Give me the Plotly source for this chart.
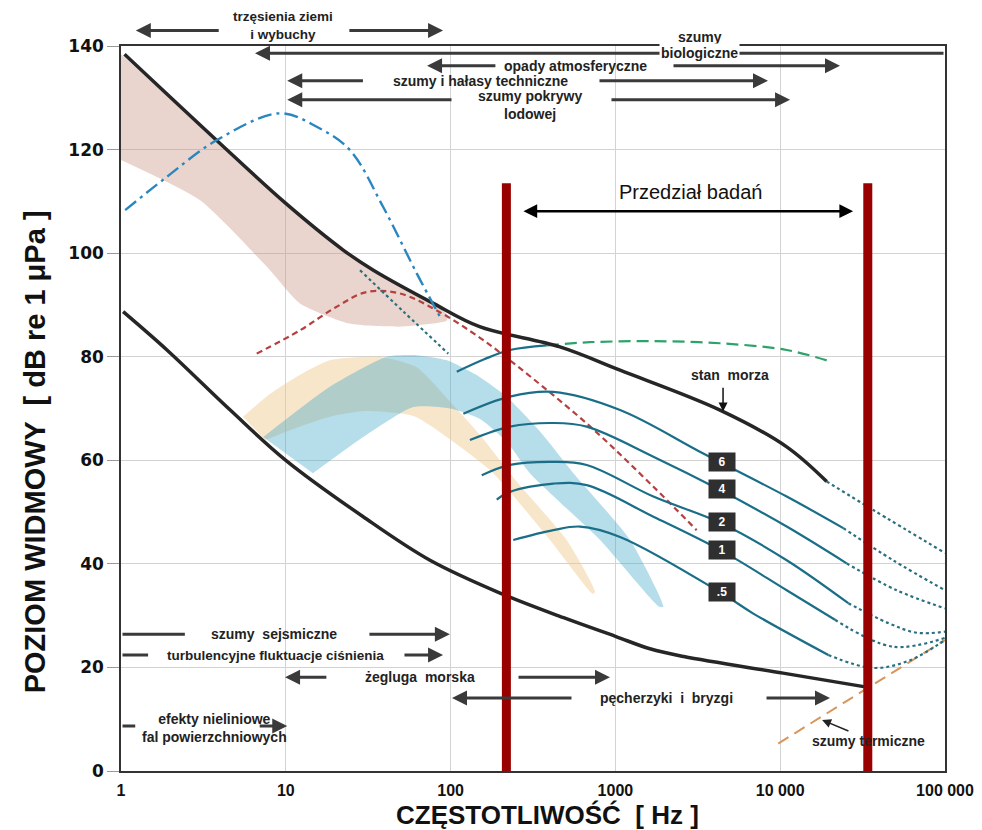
import numpy as np
import plotly.graph_objects as go

# ---------------- ambient-noise spectra (frequency in Hz, level in dB re 1 uPa) ----------------
upper_f = [1.05, 3.8, 10, 22.3, 34, 78.6, 150, 461, 1067, 4313, 10950, 19150]
upper_db = [138.4, 121.8, 109.6, 100.6, 96.7, 90.3, 85.8, 81.9, 77.4, 69.7, 62.6, 55.9]
upper_ext_f = [19150, 36700, 100000]
upper_ext_db = [55.9, 50.4, 42.1]
upper_branch_f = [28.2, 52.2, 96.8]
upper_branch_db = [96.7, 88.6, 80.6]

lower_f = [1.03, 1.9, 4.6, 10, 29.5, 75, 205, 485, 1000, 1620, 2600, 10400, 33500]
lower_db = [88.7, 81.3, 69.7, 60.0, 49.1, 40.7, 34.2, 29.6, 26.0, 23.6, 22.1, 18.9, 16.2]

# earthquakes / explosions band
quake_top_f = [1, 3.8, 10, 22.3, 34, 60, 80, 95]
quake_top_db = [138.4, 121.8, 109.6, 100.6, 96.7, 92.0, 90.0, 88.2]
quake_bot_f = [95, 78, 49, 24.5, 12.2, 7.66, 3.02, 1]
quake_bot_db = [87.0, 86.4, 85.8, 86.4, 90.3, 97.4, 110.2, 118.0]

# blue dash-dot curve
seism_f = [1.06, 1.89, 3.8, 9.2, 15.4, 24.5, 39, 62.3, 88.3]
seism_db = [108.3, 114.7, 121.8, 127.0, 124.4, 119.9, 108.9, 96.1, 87.1]

# shipping (red dashed)
ship_f = [6.66, 12.2, 20, 31, 49.3, 86, 150, 209, 670, 1700, 3110]
ship_db = [80.6, 85.1, 89.5, 92.5, 92.2, 88.6, 83.7, 80.3, 67.1, 54.9, 46.5]

# heavy precipitation (green dashed)
rain_f = [383, 700, 1700, 4313, 10950, 19150]
rain_db = [82.2, 82.8, 83.0, 82.6, 81.3, 79.3]

# light bands: orange and blue
orange_top_f = [5.5, 8, 11.6, 18.5, 37, 62, 95, 150, 250, 506, 752]
orange_top_db = [68.4, 72.8, 76.1, 79.3, 80.0, 78.0, 72.0, 65.0, 56.0, 44.6, 34.6]
orange_bot_f = [730, 401, 181.6, 110, 60, 30, 18.5, 11, 7.5]
orange_bot_db = [34.2, 44.6, 57.5, 63.0, 68.5, 69.5, 68.4, 66.0, 63.9]

blue_top_f = [7.3, 18.5, 41, 62, 95, 150, 218, 350, 556, 1227, 1953]
blue_top_db = [64.5, 74.2, 80.0, 80.3, 79.3, 76.1, 72.3, 65.5, 57.5, 44.6, 31.7]
blue_bot_f = [1850, 807, 303, 220, 150, 100, 59.4, 29.5, 14.6]
blue_bot_db = [31.7, 44.6, 57.5, 63.5, 68.0, 70.0, 70.3, 64.5, 57.5]

# sea-state curves
ss_top_f = [109, 160, 229, 383]
ss_top_db = [77.1, 79.5, 81.3, 82.2]
ss6_f = [119.5, 229, 420, 1067, 3414, 10950, 24150]
ss6_db = [69.0, 72.3, 73.2, 69.7, 61.3, 53.0, 46.9]
ss4_f = [131, 229, 420, 670, 1700, 4420, 10950, 25300]
ss4_db = [63.9, 66.5, 67.2, 66.5, 60.7, 54.1, 47.2, 40.1]
ss2_f = [154.5, 229, 420, 670, 1700, 4420, 10950, 25900]
ss2_db = [57.1, 59.1, 59.7, 59.1, 53.0, 47.8, 40.7, 32.4]
ss1_f = [190.5, 229, 420, 670, 1700, 4420, 10950, 21500]
ss1_db = [52.4, 53.9, 55.5, 55.2, 49.1, 42.5, 34.9, 29.2]
ss05_f = [240, 420, 610, 1067, 4435, 6870, 19600]
ss05_db = [44.6, 46.5, 47.2, 45.2, 34.3, 30.4, 22.4]

ss6_ext_f = [24150, 48400, 100000]
ss6_ext_db = [46.9, 40.7, 34.9]
ss4_ext_f = [25300, 50900, 100000]
ss4_ext_db = [40.1, 34.9, 31.4]
ss2_ext_f = [25900, 45000, 67300, 100000]
ss2_ext_db = [32.4, 28.6, 26.7, 26.9]
ss1_ext_f = [21500, 48300, 100000]
ss1_ext_db = [29.2, 24.0, 25.7]
ss05_ext_f = [19600, 36700, 61400, 100000]
ss05_ext_db = [22.4, 19.9, 21.4, 25.3]

label_freq = 4435

# thermal noise
thermal_f = [9730, 100000]
thermal_db = [5.3, 25.3]

# studied frequency range
study_lo, study_hi = 218, 34000
study_top = 113.5
study_arrow = (271, 27700)

# frequency ranges of the noise sources: (tail, head) pairs in Hz, level in dB
top_ranges = [
    ([(4.0, 1.23), (23.8, 90)], 143.0),
    ([(191, 72), (2205, 23060)], 136.2),
    ([(30, 10.2), (784, 8430)], 133.3),
    ([(103.4, 10.2), (927, 11480)], 129.6),
]
bottom_ranges = [
    ([(31.5, 99)], 26.4, (1, 2.44)),
    ([(51.4, 90)], 22.4, (1, 1.46)),
    ([(18, 9.9), (253, 927)], 18.1, None),
    ([(553, 102), (8090, 20050)], 14.1, None),
    ([(6.8, 10.2)], 8.7, (1, 1.22)),
]

Y_MAX = 140
BLACK = "#262626"
TEAL = "#1a6e88"
TXT = "#222222"
ARROW = "#3a3a3a"
BASE_FONT = "Liberation Sans, Arial, sans-serif"

fig = go.Figure()


def add_line(f, db, color, width, dash="solid", shape="spline"):
    fig.add_trace(go.Scatter(x=f, y=db, mode="lines",
                             line=dict(color=color, width=width, dash=dash, shape=shape),
                             hoverinfo="skip", showlegend=False))


def add_band(f_top, db_top, f_bot, db_bot, color):
    fig.add_trace(go.Scatter(x=list(f_top) + list(f_bot), y=list(db_top) + list(db_bot),
                             mode="lines", fill="toself", fillcolor=color,
                             line=dict(width=0, shape="spline", smoothing=0.6),
                             hoverinfo="skip", showlegend=False))


# filled bands
add_band(quake_top_f, quake_top_db, quake_bot_f, quake_bot_db, "rgba(200,150,130,0.40)")
add_band(orange_top_f, orange_top_db, orange_bot_f, orange_bot_db, "rgba(240,200,140,0.45)")
add_band(blue_top_f, blue_top_db, blue_bot_f, blue_bot_db, "rgba(60,165,200,0.38)")

# dashed / dotted curves
add_line(ship_f, ship_db, "#b5403f", 2.2, "6px,4px")
add_line(upper_branch_f, upper_branch_db, "#2a6f80", 2.2, "dot")
add_line(thermal_f, thermal_db, "#d9955a", 2.0, "12px,7px", "linear")

# sea-state family
for f, db in [(ss_top_f, ss_top_db), (ss6_f, ss6_db), (ss4_f, ss4_db),
              (ss2_f, ss2_db), (ss1_f, ss1_db), (ss05_f, ss05_db)]:
    add_line(f, db, TEAL, 2.2)
for f, db in [(upper_ext_f, upper_ext_db), (ss6_ext_f, ss6_ext_db), (ss4_ext_f, ss4_ext_db),
              (ss2_ext_f, ss2_ext_db), (ss1_ext_f, ss1_ext_db), (ss05_ext_f, ss05_ext_db)]:
    add_line(f, db, "#2a6f80", 2.2, "dot")
add_line(rain_f, rain_db, "#2da36b", 2.2, "12px,6px")

# limits of prevailing noise
add_line(upper_f, upper_db, BLACK, 3.5)
add_line(lower_f, lower_db, BLACK, 3.5)
add_line(seism_f, seism_db, "#2a86bf", 2.4, "14px,5px,3px,5px")

# studied range
for fr in (study_lo, study_hi):
    add_line([fr, fr], [0, study_top], "#990000", 9, "solid", "linear")

ann = []


def ypap(db):
    # level in dB -> paper fraction (keeps labels above the frame visible)
    return db / Y_MAX


def txt(text, f, db, size=14, bold=True, xanchor="center", bg=None, color=TXT, font=BASE_FONT):
    d = dict(text=f"<b>{text}</b>" if bold else text, x=np.log10(f), y=ypap(db),
             xref="x", yref="paper", showarrow=False, xanchor=xanchor, yanchor="middle",
             font=dict(size=size, color=color, family=font))
    if bg:
        d["bgcolor"] = bg
    ann.append(d)


def arrow(tail, head, db, width=3.0, color=ARROW, head_style=2, size=1.0, side="end"):
    ann.append(dict(text="", x=np.log10(head), y=ypap(db), ax=np.log10(tail), ay=0,
                    xref="x", yref="paper", axref="x", ayref="pixel", showarrow=True,
                    arrowhead=head_style, arrowsize=size, arrowwidth=width,
                    arrowcolor=color, arrowside=side, standoff=0, startstandoff=0))


# source ranges in the upper part
for pairs, lvl in top_ranges:
    for tail, head in pairs:
        arrow(tail, head, lvl)
arrow(100000, 6.5, 138.6)

txt("trzęsienia ziemi<br>i wybuchy", 9.6, 144.0, size=13.5)
txt("szumy", 3260, 141.8)
txt("biologiczne", 3260, 138.6, bg="white")
txt("opady atmosferyczne", 569, 136.1)
txt("szumy i hałasy techniczne", 151, 133.3)
txt("szumy pokrywy<br>lodowej", 303, 128.6)

# source ranges in the lower part
for pairs, lvl, lead in bottom_ranges:
    for tail, head in pairs:
        arrow(tail, head, lvl)
    if lead:
        arrow(lead[0], lead[1], lvl, head_style=0)

txt("szumy  sejsmiczne", 8.5, 26.4)
txt("turbulencyjne fluktuacje ciśnienia", 8.6, 22.4, size=13.5)
txt("żegluga  morska", 65.2, 18.1)
txt("pęcherzyki  i  bryzgi", 2047, 14.1)
txt("efekty nieliniowe<br>fal powierzchniowych", 1.3, 8.3, size=14, xanchor="left")

# sea state
txt("stan  morza", 4960, 76.4)
ann.append(dict(text="", x=np.log10(4500), y=69.4, ax=np.log10(4500), ay=74.3,
                xref="x", yref="y", axref="x", ayref="y", showarrow=True,
                arrowhead=2, arrowsize=1.2, arrowwidth=1.5, arrowcolor="#111"))
for name, f, db in [(".5", ss05_f, ss05_db), ("1", ss1_f, ss1_db), ("2", ss2_f, ss2_db),
                    ("4", ss4_f, ss4_db), ("6", ss6_f, ss6_db)]:
    lvl = float(np.interp(np.log10(label_freq), np.log10(f), db)) + 0.3
    ann.append(dict(text=f"<b>{name}</b>", x=np.log10(label_freq), y=lvl, xref="x", yref="y",
                    showarrow=False, bgcolor="#2f2f2f", borderpad=2, width=22, height=14,
                    font=dict(size=12, color="white", family=BASE_FONT)))

# thermal noise
txt("szumy termiczne", 34100, 5.7)
ann.append(dict(text="", x=np.log10(17950), y=9.85, ax=np.log10(26500), ay=7.6,
                xref="x", yref="y", axref="x", ayref="y", showarrow=True,
                arrowhead=2, arrowsize=1.2, arrowwidth=1.5, arrowcolor="#222"))

# studied range
arrow(study_arrow[0], study_arrow[1], 108.1, width=2.5, color="black", size=1.1, side="end+start")
txt("Przedział badań", 2837, 111.8, size=20, bold=False, color="#111")

# axis titles
ann.append(dict(text="<b>CZĘSTOTLIWOŚĆ  [ Hz ]</b>", xref="paper", yref="paper",
                x=0.517, y=-0.0605, xanchor="center", yanchor="middle", showarrow=False,
                font=dict(size=26, color="#111", family=BASE_FONT)))
ann.append(dict(text="<b>POZIOM WIDMOWY  [ dB re 1 μPa ]</b>", xref="paper", yref="paper",
                x=-0.104, y=0.44, xanchor="center", yanchor="middle", textangle=-90,
                showarrow=False, font=dict(size=29, color="#111", family=BASE_FONT)))

fig.update_layout(
    width=982, height=830,
    margin=dict(l=121, r=37, t=46, b=59, autoexpand=False),
    paper_bgcolor="white", plot_bgcolor="white",
    showlegend=False,
    annotations=ann,
    xaxis=dict(type="log", range=[0, 5], automargin=False,
               tickvals=[1, 10, 100, 1000, 10000, 100000],
               ticktext=["1", "10", "100", "1000", "10 000", "100 000"],
               showgrid=True, gridcolor="#d3d3d3", gridwidth=1,
               showline=True, linecolor="#333", linewidth=1.5, mirror=True,
               ticks="outside", ticklen=4, tickcolor="rgba(0,0,0,0)",
               tickfont=dict(size=16, color="#111", weight="bold", family=BASE_FONT),
               zeroline=False),
    yaxis=dict(range=[0, Y_MAX], automargin=False, tickvals=list(range(0, Y_MAX + 1, 20)),
               showgrid=True, gridcolor="#d3d3d3", gridwidth=1,
               showline=True, linecolor="#333", linewidth=1.5, mirror=True,
               ticks="outside", ticklen=12, tickcolor="#999",
               tickfont=dict(size=17, color="#111", weight="bold", family="DejaVu Sans, sans-serif"),
               zeroline=False),
)

fig.write_html("out.html")
